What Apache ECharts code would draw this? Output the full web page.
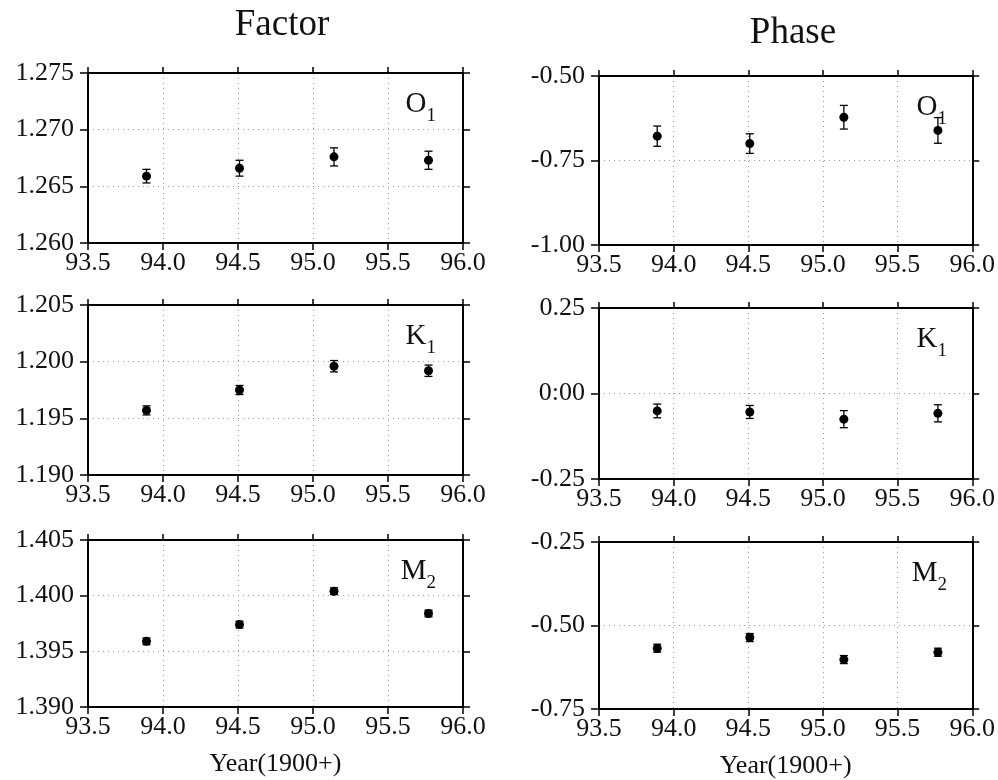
<!DOCTYPE html>
<html>
<head>
<meta charset="utf-8">
<script src="https://cdn.jsdelivr.net/npm/echarts@6/dist/echarts.min.js"></script>
<style>
  html, body { margin: 0; padding: 0; background: #fff; }
  #main { width: 998px; height: 780px; }
</style>
</head>
<body>
<div id="main"></div>
<script>
// observation epochs (year - 1900)
var years = [93.89, 94.51, 95.14, 95.77];

// amplitude factor and its error bars
var factorO1 = [1.2659, 1.2666, 1.2676, 1.2673];
var factorO1Err = [0.0006, 0.0007, 0.0008, 0.0008];
var factorK1 = [1.1957, 1.1975, 1.1996, 1.1992];
var factorK1Err = [0.0004, 0.0004, 0.0005, 0.0005];
var factorM2 = [1.3959, 1.3974, 1.4004, 1.3984];
var factorM2Err = [0.0003, 0.0003, 0.0003, 0.0003];

// phase (deg) and its error bars
var phaseO1 = [-0.678, -0.700, -0.622, -0.661];
var phaseO1Err = [0.030, 0.029, 0.035, 0.038];
var phaseK1 = [-0.051, -0.054, -0.075, -0.058];
var phaseK1Err = [0.020, 0.019, 0.025, 0.025];
var phaseM2 = [-0.568, -0.536, -0.602, -0.580];
var phaseM2Err = [0.012, 0.012, 0.012, 0.012];

// tick labels
var xTicks = ['93.5', '94.0', '94.5', '95.0', '95.5', '96.0'];
var yTicksFactorO1 = ['1.260', '1.265', '1.270', '1.275'];
var yTicksFactorK1 = ['1.190', '1.195', '1.200', '1.205'];
var yTicksFactorM2 = ['1.390', '1.395', '1.400', '1.405'];
var yTicksPhaseO1 = ['-1.00', '-0.75', '-0.50'];
var yTicksPhaseK1 = ['-0.25', '0:00', '0.25'];
var yTicksPhaseM2 = ['-0.75', '-0.50', '-0.25'];

var serif = 'Liberation Serif';

// panel layout: [left, top, width, height]
var panels = [
  { box: [88, 73, 375, 170],  vals: factorO1, err: factorO1Err, ticks: yTicksFactorO1, min: 1.260, max: 1.275, step: 0.005, tag: ['O', '1'] },
  { box: [599, 76, 375, 169], vals: phaseO1,  err: phaseO1Err,  ticks: yTicksPhaseO1,  min: -1.00, max: -0.50, step: 0.25,  tag: ['O', '1'] },
  { box: [88, 305, 375, 170], vals: factorK1, err: factorK1Err, ticks: yTicksFactorK1, min: 1.190, max: 1.205, step: 0.005, tag: ['K', '1'] },
  { box: [599, 308, 375, 171], vals: phaseK1, err: phaseK1Err,  ticks: yTicksPhaseK1,  min: -0.25, max: 0.25,  step: 0.25,  tag: ['K', '1'] },
  { box: [88, 540, 375, 167], vals: factorM2, err: factorM2Err, ticks: yTicksFactorM2, min: 1.390, max: 1.405, step: 0.005, tag: ['M', '2'], bottom: true },
  { box: [599, 542, 375, 170], vals: phaseM2, err: phaseM2Err,  ticks: yTicksPhaseM2,  min: -0.75, max: -0.25, step: 0.25,  tag: ['M', '2'], bottom: true }
];

var grids = [], xAxes = [], yAxes = [], series = [], titles = [];

titles.push({ text: 'Factor', left: 277, top: 2, textAlign: 'center',
  textStyle: { fontFamily: serif, fontSize: 37, fontWeight: 'normal', color: '#111' } });
titles.push({ text: 'Phase', left: 788, top: 10, textAlign: 'center',
  textStyle: { fontFamily: serif, fontSize: 37, fontWeight: 'normal', color: '#111' } });

var axisLineStyle = { color: '#000', width: 2 };
var gridLineStyle = { color: '#999', width: 1, type: [1, 4] };

panels.forEach(function (p, i) {
  var b = p.box;
  grids.push({ left: b[0], top: b[1], width: b[2], height: b[3] });

  xAxes.push({
    type: 'value', gridIndex: i, position: 'bottom', min: 93.5, max: 96.0, interval: 0.5,
    axisLine: { show: true, onZero: false, lineStyle: axisLineStyle },
    axisTick: { show: true, inside: false, length: 7, lineStyle: { color: '#000', width: 1.5 } },
    axisLabel: { show: true, margin: 7, fontFamily: serif, fontSize: 26, color: '#111',
      formatter: function (v, idx) { return xTicks[idx]; } },
    splitLine: { show: true, lineStyle: gridLineStyle },
    name: p.bottom ? 'Year(1900+)' : '', nameLocation: 'middle', nameGap: 44,
    nameTextStyle: { fontFamily: serif, fontSize: 26, color: '#111' }
  });
  xAxes.push({
    type: 'value', gridIndex: i, position: 'top', min: 93.5, max: 96.0, interval: 0.5,
    axisLine: { show: true, onZero: false, lineStyle: axisLineStyle },
    axisTick: { show: true, inside: false, length: 6, lineStyle: { color: '#000', width: 1.5 } },
    axisLabel: { show: false }, splitLine: { show: false }
  });

  var ticks = p.ticks;
  yAxes.push({
    type: 'value', gridIndex: i, position: 'left', min: p.min, max: p.max, interval: p.step,
    axisLine: { show: true, onZero: false, lineStyle: axisLineStyle },
    axisTick: { show: true, inside: false, length: 8, lineStyle: { color: '#000', width: 1.5 } },
    axisLabel: { show: true, margin: 14, fontFamily: serif, fontSize: 26, color: '#111',
      formatter: function (v, idx) { return ticks[idx]; } },
    splitLine: { show: true, lineStyle: gridLineStyle }
  });
  yAxes.push({
    type: 'value', gridIndex: i, position: 'right', min: p.min, max: p.max, interval: p.step,
    axisLine: { show: true, onZero: false, lineStyle: axisLineStyle },
    axisTick: { show: true, inside: false, length: 7, lineStyle: { color: '#000', width: 1.5 } },
    axisLabel: { show: false }, splitLine: { show: false }
  });

  var pts = years.map(function (x, k) { return [x, p.vals[k], p.err[k]]; });

  series.push({
    type: 'custom', xAxisIndex: 2 * i, yAxisIndex: 2 * i, silent: true,
    encode: { x: 0, y: 1 },
    data: pts,
    renderItem: function (params, api) {
      var x = api.value(0), y = api.value(1), e = api.value(2);
      var hi = api.coord([x, y + e]);
      var lo = api.coord([x, y - e]);
      var c = 4;
      var st = { stroke: '#000', lineWidth: 1.3 };
      return {
        type: 'group',
        children: [
          { type: 'line', shape: { x1: hi[0], y1: hi[1], x2: lo[0], y2: lo[1] }, style: st },
          { type: 'line', shape: { x1: hi[0] - c, y1: hi[1], x2: hi[0] + c, y2: hi[1] }, style: st },
          { type: 'line', shape: { x1: lo[0] - c, y1: lo[1], x2: lo[0] + c, y2: lo[1] }, style: st }
        ]
      };
    }
  });
  series.push({
    type: 'scatter', xAxisIndex: 2 * i, yAxisIndex: 2 * i, silent: true,
    symbol: 'circle', symbolSize: 9,
    itemStyle: { color: '#000', opacity: 1 },
    data: pts.map(function (d) { return [d[0], d[1]]; })
  });

  // constituent tag in the upper right corner
  titles.push({
    text: '{m|' + p.tag[0] + '}{s|' + p.tag[1] + '}',
    right: 998 - (b[0] + b[2]) + 22, top: b[1] + 12,
    textStyle: {
      fontWeight: 'normal',
      rich: {
        m: { fontFamily: serif, fontSize: 29, fontWeight: 'normal', color: '#111', lineHeight: 34, verticalAlign: 'top' },
        s: { fontFamily: serif, fontSize: 19, fontWeight: 'normal', color: '#111', lineHeight: 36, verticalAlign: 'bottom' }
      }
    }
  });
});

var option = {
  backgroundColor: '#fff',
  animation: false,
  title: titles,
  grid: grids,
  xAxis: xAxes,
  yAxis: yAxes,
  series: series
};

var chart = echarts.init(document.getElementById('main'));
chart.setOption(option);
</script>
</body>
</html>
